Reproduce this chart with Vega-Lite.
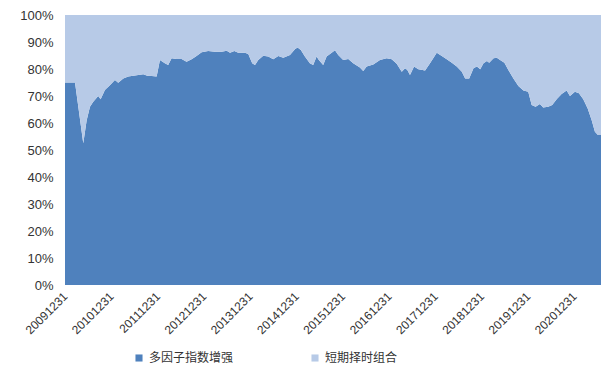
{
  "$schema": "https://vega.github.io/schema/vega-lite/v6.json",
  "width": 536,
  "height": 270,
  "autosize": {"type": "none"},
  "padding": {"left": 65, "top": 15, "right": 2, "bottom": 87},
  "background": "white",
  "config": {"view": {"stroke": null}},
  "data": {"values": [
    {"date": "2009-12-31", "多因子指数增强": 75, "短期择时组合": 25},
    {"date": "2010-03-20", "多因子指数增强": 75, "短期择时组合": 25},
    {"date": "2010-05-24", "多因子指数增强": 52.5, "短期择时组合": 47.5},
    {"date": "2010-06-20", "多因子指数增强": 61, "短期择时组合": 39},
    {"date": "2010-07-16", "多因子指数增强": 66, "短期择时组合": 34},
    {"date": "2010-08-11", "多因子指数增强": 67.9, "短期择时组合": 32.1},
    {"date": "2010-09-19", "多因子指数增强": 70, "短期择时组合": 30},
    {"date": "2010-10-08", "多因子指数增强": 68.8, "短期择时组合": 31.2},
    {"date": "2010-11-11", "多因子指数增强": 72.2, "短期择时组合": 27.8},
    {"date": "2010-12-20", "多因子指数增强": 74, "短期择时组合": 26},
    {"date": "2011-01-29", "多因子指数增强": 75.9, "短期择时组合": 24.1},
    {"date": "2011-02-24", "多因子指数增强": 74.9, "短期择时组合": 25.1},
    {"date": "2011-04-05", "多因子指数增强": 76.5, "短期择时组合": 23.5},
    {"date": "2011-05-14", "多因子指数增强": 77.2, "短期择时组合": 22.8},
    {"date": "2011-06-23", "多因子指数增强": 77.5, "短期择时组合": 22.5},
    {"date": "2011-08-01", "多因子指数增强": 77.8, "短期择时组合": 22.2},
    {"date": "2011-09-10", "多因子指数增强": 78.1, "短期择时组合": 21.9},
    {"date": "2011-10-11", "多因子指数增强": 77.5, "短期择时组合": 22.5},
    {"date": "2011-11-15", "多因子指数增强": 77.4, "短期择时组合": 22.6},
    {"date": "2011-12-24", "多因子指数增强": 77.2, "短期择时组合": 22.8},
    {"date": "2012-01-19", "多因子指数增强": 83.3, "短期择时组合": 16.7},
    {"date": "2012-02-27", "多因子指数增强": 82.1, "短期择时组合": 17.9},
    {"date": "2012-03-24", "多因子指数增强": 81.5, "短期择时组合": 18.5},
    {"date": "2012-04-20", "多因子指数增强": 84, "短期择时组合": 16},
    {"date": "2012-05-29", "多因子指数增强": 83.7, "短期择时组合": 16.3},
    {"date": "2012-07-08", "多因子指数增强": 83.7, "短期择时组合": 16.3},
    {"date": "2012-08-16", "多因子指数增强": 82.7, "短期择时组合": 17.3},
    {"date": "2012-09-25", "多因子指数增强": 83.6, "短期择时组合": 16.4},
    {"date": "2012-11-03", "多因子指数增强": 84.8, "短期择时组合": 15.2},
    {"date": "2012-12-13", "多因子指数增强": 86.2, "短期择时组合": 13.8},
    {"date": "2013-02-03", "多因子指数增强": 86.7, "短期择时组合": 13.3},
    {"date": "2013-03-28", "多因子指数增强": 86.4, "短期择时组合": 13.6},
    {"date": "2013-05-20", "多因子指数增强": 86.4, "短期择时组合": 13.6},
    {"date": "2013-06-29", "多因子指数增强": 86.8, "短期择时组合": 13.2},
    {"date": "2013-07-25", "多因子指数增强": 86, "短期择时组合": 14},
    {"date": "2013-08-28", "多因子指数增强": 86.7, "短期择时组合": 13.3},
    {"date": "2013-09-28", "多因子指数增强": 86, "短期择时组合": 14},
    {"date": "2013-11-20", "多因子指数增强": 86, "短期择时组合": 14},
    {"date": "2013-12-16", "多因子指数增强": 85.6, "短期择时组合": 14.4},
    {"date": "2014-01-16", "多因子指数增强": 82.1, "短期择时组合": 17.9},
    {"date": "2014-02-07", "多因子指数增强": 81.5, "短期择时组合": 18.5},
    {"date": "2014-03-05", "多因子指数增强": 83.3, "短期择时组合": 16.7},
    {"date": "2014-04-13", "多因子指数增强": 84.9, "短期择时组合": 15.1},
    {"date": "2014-05-23", "多因子指数增强": 84.6, "短期择时组合": 15.4},
    {"date": "2014-07-01", "多因子指数增强": 83.6, "短期择时组合": 16.4},
    {"date": "2014-08-10", "多因子指数增强": 84.8, "短期择时组合": 15.2},
    {"date": "2014-09-18", "多因子指数增强": 84.2, "短期择时组合": 15.8},
    {"date": "2014-11-10", "多因子指数增强": 85.2, "短期择时组合": 14.8},
    {"date": "2014-12-19", "多因子指数增强": 87.3, "短期择时组合": 12.7},
    {"date": "2015-01-09", "多因子指数增强": 88, "短期择时组合": 12},
    {"date": "2015-02-04", "多因子指数增强": 87, "短期择时组合": 13},
    {"date": "2015-03-08", "多因子指数增强": 84.6, "短期择时组合": 15.4},
    {"date": "2015-04-16", "多因子指数增强": 82.1, "短期择时组合": 17.9},
    {"date": "2015-05-12", "多因子指数增强": 81.5, "短期择时组合": 18.5},
    {"date": "2015-06-08", "多因子指数增强": 84.6, "短期择时组合": 15.4},
    {"date": "2015-06-26", "多因子指数增强": 83.3, "短期择时组合": 16.7},
    {"date": "2015-07-30", "多因子指数增强": 81.5, "短期择时组合": 18.5},
    {"date": "2015-08-26", "多因子指数增强": 84.6, "短期择时组合": 15.4},
    {"date": "2015-10-05", "多因子指数增强": 86, "短期择时组合": 14},
    {"date": "2015-10-31", "多因子指数增强": 86.9, "短期择时组合": 13.1},
    {"date": "2015-11-26", "多因子指数增强": 85.2, "短期择时组合": 14.8},
    {"date": "2016-01-04", "多因子指数增强": 83.3, "短期择时组合": 16.7},
    {"date": "2016-02-13", "多因子指数增强": 83.7, "短期择时组合": 16.3},
    {"date": "2016-03-23", "多因子指数增强": 82.1, "短期择时组合": 17.9},
    {"date": "2016-05-15", "多因子指数增强": 80.6, "短期择时组合": 19.4},
    {"date": "2016-06-10", "多因子指数增强": 79.3, "短期择时组合": 20.7},
    {"date": "2016-07-07", "多因子指数增强": 80.9, "短期择时组合": 19.1},
    {"date": "2016-08-28", "多因子指数增强": 81.7, "短期择时组合": 18.3},
    {"date": "2016-10-20", "多因子指数增强": 83.3, "短期择时组合": 16.7},
    {"date": "2016-12-12", "多因子指数增强": 84, "短期择时组合": 16},
    {"date": "2017-01-21", "多因子指数增强": 83.6, "短期择时组合": 16.4},
    {"date": "2017-03-01", "多因子指数增强": 81.9, "短期择时组合": 18.1},
    {"date": "2017-04-10", "多因子指数增强": 79, "短期择时组合": 21},
    {"date": "2017-05-06", "多因子指数增强": 80.3, "短期择时组合": 19.7},
    {"date": "2017-05-24", "多因子指数增强": 79.6, "短期择时组合": 20.4},
    {"date": "2017-06-14", "多因子指数增强": 77.8, "短期择时组合": 22.2},
    {"date": "2017-07-16", "多因子指数增强": 80.9, "短期择时组合": 19.1},
    {"date": "2017-08-19", "多因子指数增强": 79.9, "短期择时组合": 20.1},
    {"date": "2017-10-11", "多因子指数增强": 79.4, "短期择时组合": 20.6},
    {"date": "2017-11-19", "多因子指数增强": 82.1, "短期择时组合": 17.9},
    {"date": "2018-01-11", "多因子指数增强": 86, "短期择时组合": 14},
    {"date": "2018-02-20", "多因子指数增强": 84.8, "短期择时组合": 15.2},
    {"date": "2018-03-31", "多因子指数增强": 83.6, "短期择时组合": 16.4},
    {"date": "2018-05-10", "多因子指数增强": 82.3, "短期择时组合": 17.7},
    {"date": "2018-06-18", "多因子指数增强": 80.9, "短期择时组合": 19.1},
    {"date": "2018-07-28", "多因子指数增强": 79, "短期择时组合": 21},
    {"date": "2018-08-23", "多因子指数增强": 76.5, "短期择时组合": 23.5},
    {"date": "2018-09-24", "多因子指数增强": 76.5, "短期择时组合": 23.5},
    {"date": "2018-10-28", "多因子指数增强": 80.3, "短期择时组合": 19.7},
    {"date": "2018-11-24", "多因子指数增强": 80.9, "短期择时组合": 19.1},
    {"date": "2018-12-20", "多因子指数增强": 79.9, "短期择时组合": 20.1},
    {"date": "2019-01-15", "多因子指数增强": 82.1, "短期择时组合": 17.9},
    {"date": "2019-02-11", "多因子指数增强": 83, "短期择时组合": 17},
    {"date": "2019-03-01", "多因子指数增强": 82.3, "短期择时组合": 17.7},
    {"date": "2019-04-04", "多因子指数增强": 84, "短期择时组合": 16},
    {"date": "2019-04-30", "多因子指数增强": 84.2, "短期择时组合": 15.8},
    {"date": "2019-05-26", "多因子指数增强": 83.3, "短期择时组合": 16.7},
    {"date": "2019-06-29", "多因子指数增强": 82.3, "短期择时组合": 17.7},
    {"date": "2019-07-30", "多因子指数增强": 79.6, "短期择时组合": 20.4},
    {"date": "2019-09-08", "多因子指数增强": 76.5, "短期择时组合": 23.5},
    {"date": "2019-10-17", "多因子指数增强": 73.7, "短期择时组合": 26.3},
    {"date": "2019-11-26", "多因子指数增强": 72, "短期择时组合": 28},
    {"date": "2020-01-03", "多因子指数增强": 71.6, "短期择时组合": 28.4},
    {"date": "2020-01-30", "多因子指数增强": 66.7, "短期择时组合": 33.3},
    {"date": "2020-03-01", "多因子指数增强": 66, "短期择时组合": 34},
    {"date": "2020-04-04", "多因子指数增强": 67, "短期择时组合": 33},
    {"date": "2020-04-30", "多因子指数增强": 65.7, "短期择时组合": 34.3},
    {"date": "2020-06-08", "多因子指数增强": 66, "短期择时组合": 34},
    {"date": "2020-07-10", "多因子指数增强": 66.7, "短期择时组合": 33.3},
    {"date": "2020-08-14", "多因子指数增强": 68.8, "短期择时组合": 31.2},
    {"date": "2020-09-22", "多因子指数增强": 70.7, "短期择时组合": 29.3},
    {"date": "2020-11-01", "多因子指数增强": 72, "短期择时组合": 28},
    {"date": "2020-11-27", "多因子指数增强": 70, "短期择时组合": 30},
    {"date": "2021-01-05", "多因子指数增强": 71.6, "短期择时组合": 28.4},
    {"date": "2021-02-06", "多因子指数增强": 71, "短期择时组合": 29},
    {"date": "2021-03-12", "多因子指数增强": 68.8, "短期择时组合": 31.2},
    {"date": "2021-04-16", "多因子指数增强": 65.4, "短期择时组合": 34.6},
    {"date": "2021-05-17", "多因子指数增强": 61.1, "短期择时组合": 38.9},
    {"date": "2021-06-12", "多因子指数增强": 56.8, "短期择时组合": 43.2},
    {"date": "2021-07-06", "多因子指数增强": 55.6, "短期择时组合": 44.4},
    {"date": "2021-07-30", "多因子指数增强": 55.6, "短期择时组合": 44.4}
  ]},
  "transform": [
    {"fold": ["多因子指数增强", "短期择时组合"], "as": ["series", "share"]}
  ],
  "mark": {"type": "area", "interpolate": "linear"},
  "encoding": {
    "x": {
      "field": "date",
      "type": "temporal",
      "scale": {"type": "utc", "domain": [{"year": 2009, "month": 12, "date": 31, "utc": true}, {"year": 2021, "month": 7, "date": 30, "utc": true}], "nice": false},
      "axis": {
        "title": null,
        "labelExpr": "utcFormat(datum.value, '%Y%m%d')",
        "values": [
          {"year": 2009, "month": 12, "date": 31, "utc": true},
          {"year": 2010, "month": 12, "date": 31, "utc": true},
          {"year": 2011, "month": 12, "date": 31, "utc": true},
          {"year": 2012, "month": 12, "date": 31, "utc": true},
          {"year": 2013, "month": 12, "date": 31, "utc": true},
          {"year": 2014, "month": 12, "date": 31, "utc": true},
          {"year": 2015, "month": 12, "date": 31, "utc": true},
          {"year": 2016, "month": 12, "date": 31, "utc": true},
          {"year": 2017, "month": 12, "date": 31, "utc": true},
          {"year": 2018, "month": 12, "date": 31, "utc": true},
          {"year": 2019, "month": 12, "date": 31, "utc": true},
          {"year": 2020, "month": 12, "date": 31, "utc": true}
        ],
        "labelAngle": -45,
        "labelAlign": "right",
        "labelBaseline": "middle",
        "labelFont": "Liberation Sans",
        "labelFontSize": 12,
        "labelColor": "#333333",
        "labelPadding": 9,
        "labelOverlap": false,
        "labelBound": false,
        "labelFlush": false,
        "ticks": false,
        "domain": false,
        "grid": false
      }
    },
    "y": {
      "field": "share",
      "type": "quantitative",
      "stack": "zero",
      "scale": {"domain": [0, 100], "nice": false},
      "axis": {
        "title": null,
        "values": [0, 10, 20, 30, 40, 50, 60, 70, 80, 90, 100],
        "labelExpr": "datum.value + '%'",
        "labelFont": "Liberation Sans",
        "labelFontSize": 13,
        "labelColor": "#333333",
        "labelPadding": 12,
        "ticks": false,
        "domain": false,
        "grid": false
      }
    },
    "order": {"field": "series", "type": "nominal", "sort": "ascending"},
    "color": {
      "field": "series",
      "type": "nominal",
      "sort": ["多因子指数增强", "短期择时组合"],
      "scale": {"domain": ["多因子指数增强", "短期择时组合"], "range": ["#4F81BD", "#B7CAE7"]},
      "legend": {
        "title": null,
        "orient": "none",
        "legendX": 68,
        "legendY": 337,
        "direction": "horizontal",
        "symbolType": "square",
        "symbolSize": 50,
        "symbolStrokeWidth": 0,
        "labelFont": "Noto Sans CJK SC",
        "labelFontSize": 12,
        "labelColor": "#333333",
        "columnPadding": 75
      }
    }
  }
}
